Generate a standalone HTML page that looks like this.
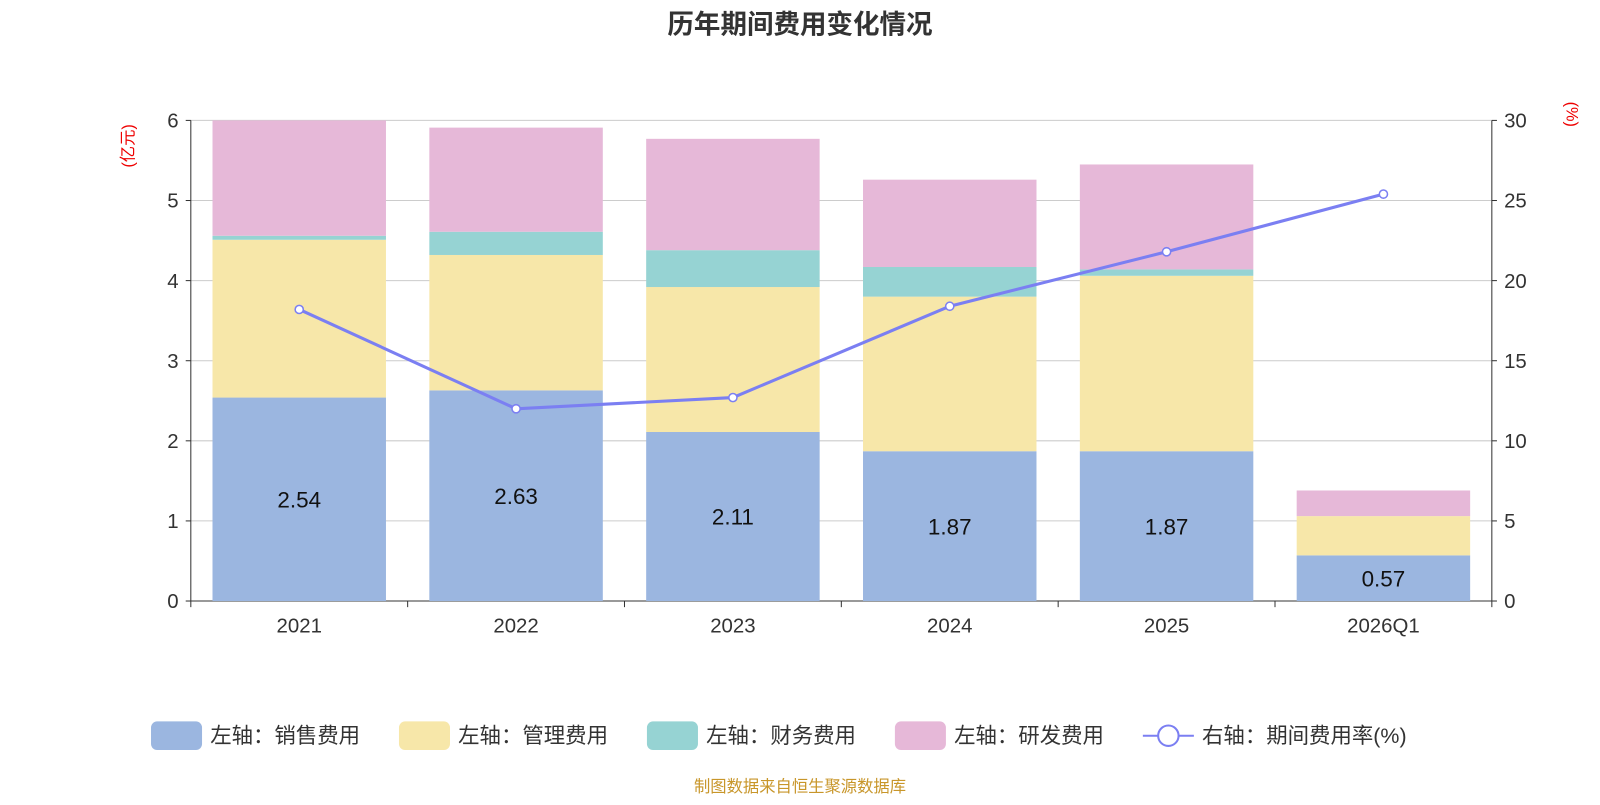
<!DOCTYPE html>
<html><head><meta charset="utf-8">
<style>
body{margin:0;background:#fff;width:1600px;height:800px;overflow:hidden;font-family:"Liberation Sans","Noto Sans CJK SC",sans-serif;}
svg text{font-family:"Liberation Sans","Noto Sans CJK SC",sans-serif;}
</style></head>
<body>
<svg id="chart" width="1600" height="800">
<g transform="scale(1.020408)">
<text x="784" y="33" text-anchor="middle" font-size="26" font-weight="bold" fill="#333">历年期间费用变化情况</text>
<text x="131" y="143" font-size="16" fill="#e00" transform="rotate(-90 131 143)" text-anchor="middle">(亿元)</text>
<text x="1535" y="112" font-size="16" fill="#e00" transform="rotate(90 1535 112)" text-anchor="middle">(%)</text>
<g id="grid"></g><g id="bars"></g><g id="axes"></g><g id="line"></g><g id="legend"></g>
<text x="784" y="776" text-anchor="middle" font-size="16" fill="#c8962a">制图数据来自恒生聚源数据库</text>
</g>
</svg>
<script>
const categories=["2021","2022","2023","2024","2025","2026Q1"];
const sales=[2.54,2.63,2.11,1.87,1.87,0.57];
const admin=[1.97,1.69,1.81,1.93,2.19,0.49];
const finance=[0.05,0.29,0.46,0.37,0.08,0.0];
const rnd=[1.44,1.30,1.39,1.09,1.31,0.32];
const rate=[18.2,12.0,12.7,18.4,21.8,25.4];
const leftTicks=[0,1,2,3,4,5,6];
const rightTicks=[0,5,10,15,20,25,30];
const NS="http://www.w3.org/2000/svg";
const X0=187,X1=1462,Y0=589,Y1=118;
const band=(X1-X0)/categories.length;
const xC=i=>X0+band*(i+0.5);
const yL=v=>Y0-(v/6)*(Y0-Y1);
const yR=v=>Y0-(v/30)*(Y0-Y1);
function mk(tag,attrs,parent,txt){const e=document.createElementNS(NS,tag);for(const k in attrs)e.setAttribute(k,attrs[k]);if(txt!==undefined)e.textContent=txt;document.getElementById(parent).appendChild(e);return e;}
leftTicks.forEach((t,i)=>{
 const g=mk('line',{x1:X0,x2:X1,y1:yL(t),y2:yL(t),stroke:t===0?'#333':'#ccc','stroke-width':1},'grid');
 
 
 const lt=mk('text',{x:X0-12,y:yL(t)+7,'text-anchor':'end','font-size':20,fill:'#333'},'axes',t);
 
 
 const rt=mk('text',{x:X1+12,y:yR(rightTicks[i])+7,'font-size':20,fill:'#333'},'axes',rightTicks[i]);
 
 
 mk('line',{x1:X0-5,x2:X0,y1:yL(t),y2:yL(t),stroke:'#333'},'axes');
 mk('line',{x1:X1,x2:X1+5,y1:yL(t),y2:yL(t),stroke:'#333'},'axes');
});
mk('line',{x1:X0,x2:X0,y1:Y1,y2:Y0,stroke:'#333'},'axes');
mk('line',{x1:X1,x2:X1,y1:Y1,y2:Y0,stroke:'#333'},'axes');
for(let i=0;i<=categories.length;i++)mk('line',{x1:X0+band*i,x2:X0+band*i,y1:Y0,y2:Y0+6,stroke:'#333'},'axes');
const series=[[sales,'#9bb6e0','sales'],[admin,'#f7e7a9','admin'],[finance,'#96d3d3','finance'],[rnd,'#e6b8d8','rnd']];
const bw=170;
categories.forEach((c,i)=>{
 let base=0;
 series.forEach(([arr,col,nm])=>{
  const r=mk('rect',{x:xC(i)-bw/2,y:yL(base+arr[i]),width:bw,height:yL(base)-yL(base+arr[i]),fill:col},'bars');
  
  
  base+=arr[i];
 });
 const lb=mk('text',{x:xC(i),y:(yL(0)+yL(sales[i]))/2+8,'text-anchor':'middle','font-size':22,fill:'#111'},'bars',sales[i].toFixed(2));
 
 
 const ct=mk('text',{x:xC(i),y:Y0+31,'text-anchor':'middle','font-size':20,fill:'#333'},'axes',c);
 
 
});
const pl=mk('polyline',{points:rate.map((v,i)=>xC(i)+','+yR(v)).join(' '),fill:'none',stroke:'#7b7ff2','stroke-width':3},'line');


rate.forEach((v,i)=>{
 const p=mk('circle',{cx:xC(i),cy:yR(v),r:4,fill:'#fff',stroke:'#7b7ff2','stroke-width':1.5},'line');
 
 
});
const legend=[['左轴：销售费用','#9bb6e0',148],['左轴：管理费用','#f7e7a9',391],['左轴：财务费用','#96d3d3',634],['左轴：研发费用','#e6b8d8',877]];
legend.forEach(([t,c,x])=>{
 const r=mk('rect',{x:x,y:707,width:50,height:28,rx:6,fill:c},'legend');
 
 
 const tx=mk('text',{x:x+58,y:728,'font-size':21,fill:'#333'},'legend',t);
 
 
});
mk('line',{x1:1120,x2:1170,y1:721,y2:721,stroke:'#7b7ff2','stroke-width':2},'legend');
const lc=mk('circle',{cx:1145,cy:721,r:10,fill:'#fff',stroke:'#7b7ff2','stroke-width':2},'legend');


const lt=mk('text',{x:1178,y:728,'font-size':21,fill:'#333'},'legend','右轴：期间费用率(%)');


</script>
</body></html>
